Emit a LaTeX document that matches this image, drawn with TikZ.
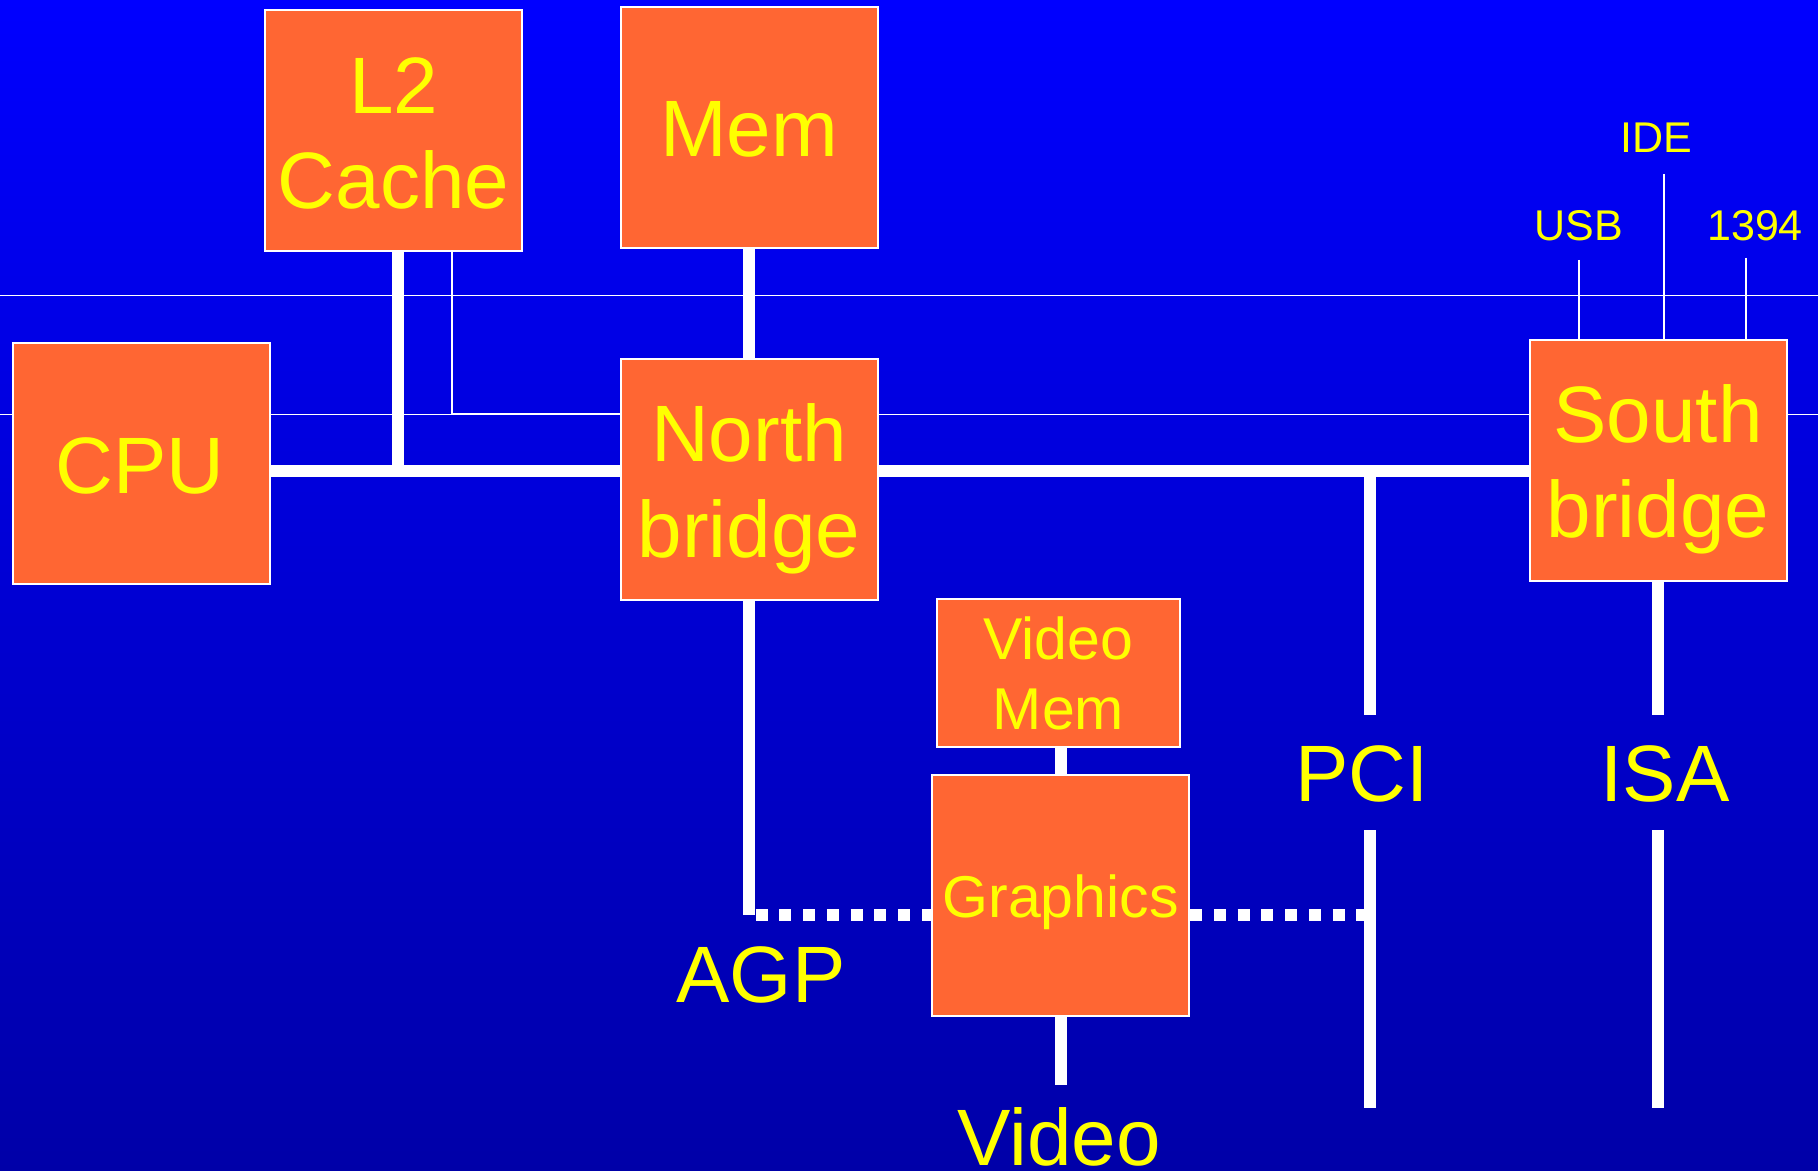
\documentclass[tikz,border=0pt]{standalone}
\usepackage{fontspec}
\setmainfont{Liberation Sans}
\definecolor{boxorange}{RGB}{255,102,51}
\definecolor{txtyellow}{RGB}{255,255,0}
\definecolor{bgtop}{RGB}{0,0,255}
\definecolor{bgbot}{RGB}{0,0,168}
\begin{document}
\begin{tikzpicture}[x=0.5pt,y=-0.5pt,
  box/.style={draw=white,line width=1pt,fill=boxorange,inner sep=0pt,minimum width=128.5pt,minimum height=120.5pt},
  lbl/.style={text=txtyellow,inner sep=0pt,anchor=base},
  big/.style={lbl,font=\fontsize{40}{47.75}\selectfont},
  mid/.style={lbl,font=\fontsize{29.5}{35}\selectfont},
  small/.style={lbl,font=\fontsize{21.5}{25}\selectfont},
  bus/.style={draw=white,line width=6pt},
  wire/.style={draw=white,line width=0.9pt},
  guide/.style={draw=white,line width=0.5pt},
  agpdots/.style={draw=white,line width=6pt,dash pattern=on 6pt off 5.875pt}]

\shade[top color=bgtop,bottom color=bgbot] (0,0) rectangle (1818,1171);
\useasboundingbox (0,0) rectangle (1818,1171);

% guide lines
\draw[guide] (0,295.4) -- (1818,295.4);
\draw[guide] (0,414.8) -- (1818,414.8);

% boxes
\node[box] (l2) at (393.5,130.5) {};
\node[box] (mem) at (749,128) {};
\node[box] (cpu) at (141,463.3) {};
\node[box] (nb) at (749,479.5) {};
\node[box] (sb) at (1658,460.5) {};
\node[box,minimum width=121.5pt,minimum height=74pt] (vm) at (1058.5,673) {};
\node[box] (gr) at (1060.5,895.5) {};

% coordinates
\coordinate (pl2) at (398,471);
\coordinate (tl2) at (451.6,413.5);
\coordinate (agp) at (749,914.5);
\coordinate (agpr) at (755.5,914.5);
\coordinate (pcitop) at (1369.5,471);
\coordinate (pcia) at (1369.5,714.5);
\coordinate (pcib) at (1369.5,830);
\coordinate (pcic) at (1369.5,1107.5);
\coordinate (vidend) at (1060.5,1084.6);
\coordinate (usbend) at (1578.6,260);
\coordinate (ideend) at (1664,174);
\coordinate (fwend) at (1746,257.6);

% connectors
\draw[bus] (cpu.east |- pl2) -- (nb.west |- pl2);
\draw[bus] (nb.east |- pl2) -- (sb.west |- pl2);
\draw[bus] (pl2 |- l2.south) -- (pl2);
\draw[wire] (tl2 |- l2.south) |- (nb.west |- tl2);
\draw[bus] (mem.south) -- (nb.north);
\draw[bus] (nb.south) -- (agp);
\draw[agpdots] (agpr) -- (gr.west |- agp);
\draw[agpdots] (gr.east |- agp) -- (pcib |- agp);
\draw[bus] (pcitop) -- (pcia);
\draw[bus] (pcib) -- (pcic);
\draw[bus] (sb.south) -- (sb.south |- pcia);
\draw[bus] (sb.south |- pcib) -- (sb.south |- pcic);
\draw[bus] (gr.north |- vm.south) -- (gr.north);
\draw[bus] (gr.south) -- (vidend);
\draw[wire] (usbend) -- (usbend |- sb.north);
\draw[wire] (ideend) -- (ideend |- sb.north);
\draw[wire] (fwend) -- (fwend |- sb.north);

% labels
\node[big] (l2t) at (393.5,208.6) {\begin{tabular}[b]{@{}c@{}}L2\\Cache\end{tabular}};
\node[big] (memt) at (749,157) {Mem};
\node[big] (cput) at (140,493.5) {CPU};
\node[big] (nbt) at (749,557) {\begin{tabular}[b]{@{}c@{}}North\\bridge\end{tabular}};
\node[big] (sbt) at (1658,537.5) {\begin{tabular}[b]{@{}c@{}}South\\bridge\end{tabular}};
\node[mid] (vmt) at (1058.5,729.8) {\begin{tabular}[b]{@{}c@{}}Video\\Mem\end{tabular}};
\node[mid] (grt) at (1060.5,917.3) {Graphics};
\node[big] (pcit) at (1362,801) {PCI};
\node[big] (isat) at (1665,801) {ISA};
\node[big] (agpt) at (761,1002.5) {AGP};
\node[big] (vidt) at (1059,1165.5) {Video};
\node[small] (usbt) at (1579,241) {USB};
\node[small] (idet) at (1656,152.3) {IDE};
\node[small] (fwt) at (1755,241) {1394};
\end{tikzpicture}
\end{document}
